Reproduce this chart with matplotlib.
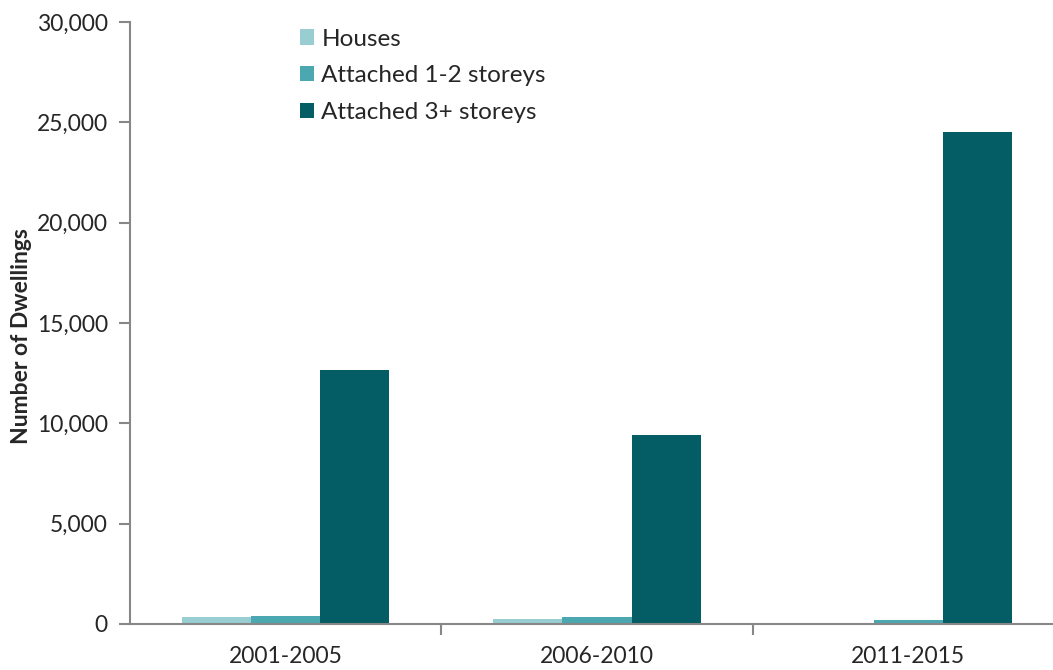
import numpy as np
import matplotlib.pyplot as plt
from matplotlib.ticker import FuncFormatter

# Dwelling completions by period and type
periods = ["2001-2005", "2006-2010", "2011-2015"]
houses = [350, 250, 50]
attached_low = [400, 350, 200]
attached_high = [12650, 9400, 24500]

series_names = ["Houses", "Attached 1-2 storeys", "Attached 3+ storeys"]
colors = ["#98cdd2", "#4ba8b0", "#045c64"]

plt.rcParams["font.family"] = ["Lato", "DejaVu Sans"]
text_color = "#262626"
axis_color = "#878787"

fig = plt.figure(figsize=(10.53, 6.70), dpi=100)
ax = fig.add_axes([0.1235, 0.0687, 0.887, 0.8985])

x = np.arange(len(periods))
width = 0.222
for i, (vals, name, col) in enumerate(zip([houses, attached_low, attached_high], series_names, colors)):
    ax.bar(x + (i - 1) * width, vals, width, color=col, label=name)

ax.set_xlim(-0.5, 2.5)
ax.set_ylim(0, 30000)
ax.set_yticks(range(0, 30001, 5000))
ax.yaxis.set_major_formatter(FuncFormatter(lambda v, p: f"{int(v):,}"))

ax.set_xticks(x)
ax.set_xticklabels(periods)
ax.set_xticks([0.5, 1.5], minor=True)
ax.tick_params(axis="x", which="major", length=0, pad=16, labelsize=16.5, labelcolor=text_color)
ax.tick_params(axis="x", which="minor", length=8, width=1.5, color=axis_color, direction="out")
ax.tick_params(axis="y", length=8, width=1.5, color=axis_color, pad=8, labelsize=16.5, labelcolor=text_color)

for side in ["top", "right"]:
    ax.spines[side].set_visible(False)
for side in ["left", "bottom"]:
    ax.spines[side].set_color(axis_color)
    ax.spines[side].set_linewidth(1.5)

fig.text(0.02, 0.498, "Number of Dwellings", rotation=90, ha="center", va="center",
         fontsize=16.5, fontweight="bold", color=text_color)

ax.legend(loc="upper left", bbox_to_anchor=(0.264, 0.99), bbox_transform=fig.transFigure,
          frameon=False, fontsize=17.5, labelcolor=text_color,
          handlelength=0.58, handleheight=0.58, handletextpad=0.3, labelspacing=0.64)

fig.savefig("out.png", dpi=100)
